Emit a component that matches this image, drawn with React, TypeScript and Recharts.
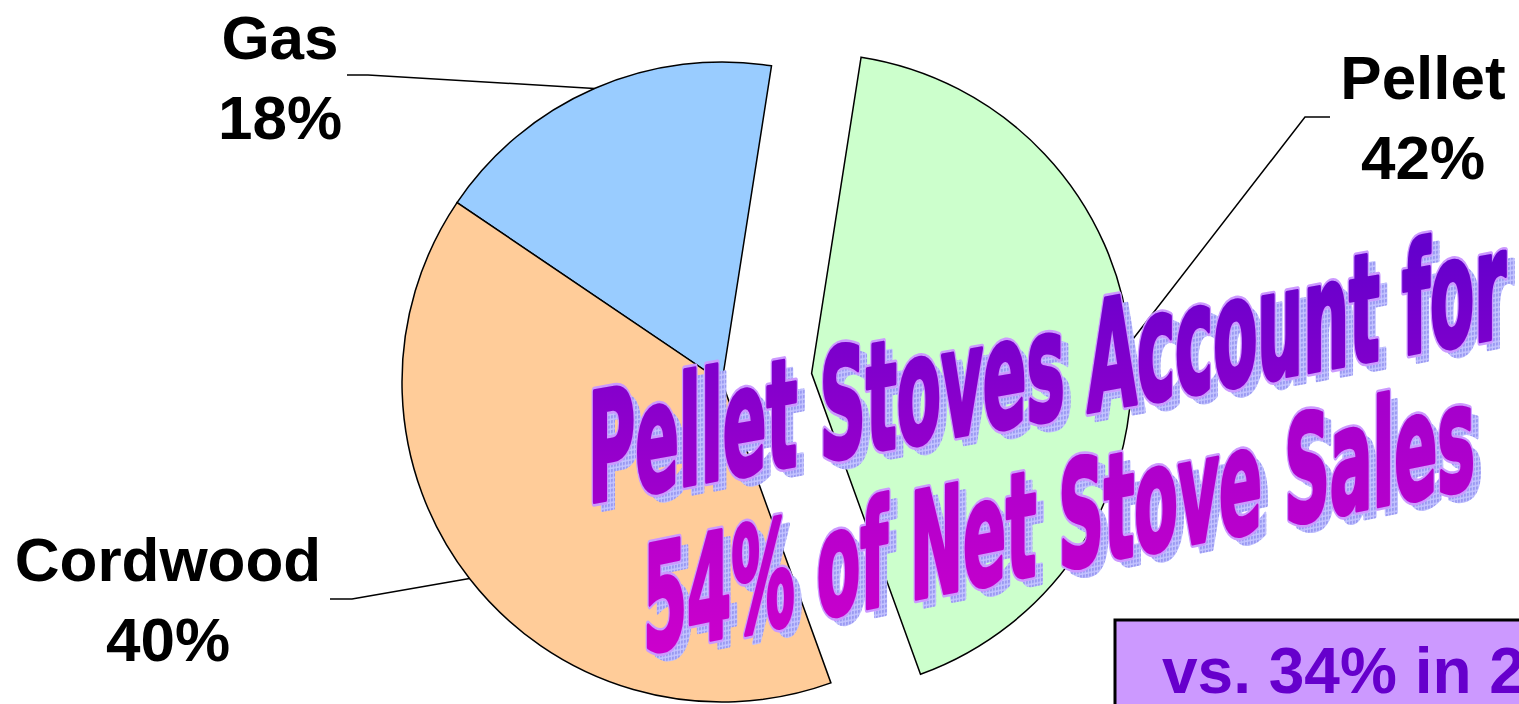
import React from 'react';
import { PieChart, Pie, Cell } from 'recharts';

// ---- data ----
const categories = ['Gas', 'Cordwood', 'Pellet'];
const shares = [18, 40, 42];
const sliceColors = ['#99ccff', '#ffcc99', '#ccffcc'];
const explodedCategory = 'Pellet';
const headlineLines = ['Pellet Stoves Account for', '54% of Net Stove Sales'];
const footnoteText = 'vs. 34% in 2';

// ---- layout ----
const W = 1519;
const H = 704;
const CX = 722;
const CY = 382;
const R = 320;
const START = 81.1;
const EXPLODE = 90;
const RAD = Math.PI / 180;

const data = categories.map((name, i) => ({ name, value: shares[i], color: sliceColors[i] }));
const total = shares.reduce((a, b) => a + b, 0);
let acc = 0;
let explodedMid = START;
data.forEach((d) => {
  if (d.name === explodedCategory) explodedMid = START + (360 * (acc + d.value / 2)) / total;
  acc += d.value;
});
const ECX = CX + EXPLODE * Math.cos(explodedMid * RAD);
const ECY = CY - EXPLODE * Math.sin(explodedMid * RAD);

const LABEL_LAYOUT: Record<string, { elbow: [number, number]; end: [number, number]; textX: number; baseline: number }> = {
  Gas: { elbow: [368, 75], end: [347, 75], textX: 280, baseline: 59 },
  Cordwood: { elbow: [352, 599], end: [330, 599], textX: 168, baseline: 581 },
  Pellet: { elbow: [1305, 117], end: [1330, 117], textX: 1423, baseline: 99 },
};
const LINE_GAP = 80;
const LABEL_FONT = "'Liberation Sans', Arial, sans-serif";

const makeLabel = (show: (n: string) => boolean) => (props: any) => {
  const name: string = props.name ?? props.payload?.name;
  if (!show(name) || !LABEL_LAYOUT[name]) return <g />;
  const { cx, cy, midAngle, outerRadius, value } = props;
  const px = cx + outerRadius * Math.cos(-midAngle * RAD);
  const py = cy + outerRadius * Math.sin(-midAngle * RAD);
  const L = LABEL_LAYOUT[name];
  return (
    <g>
      <polyline
        points={`${px},${py} ${L.elbow[0]},${L.elbow[1]} ${L.end[0]},${L.end[1]}`}
        fill="none"
        stroke="#000"
        strokeWidth={1.5}
      />
      <text x={L.textX} y={L.baseline} textAnchor="middle" fontFamily={LABEL_FONT} fontWeight="bold" fontSize={62} fill="#000">
        {name}
      </text>
      <text x={L.textX} y={L.baseline + LINE_GAP} textAnchor="middle" fontFamily={LABEL_FONT} fontWeight="bold" fontSize={62} fill="#000">
        {`${value}%`}
      </text>
    </g>
  );
};

const HEADLINE_STYLE = [
  { x: 588, y: 503, skew: -10.3, sy: 1.63, len: 918, size: 93, top: '#6400cc', bottom: '#a200cc', y1: 250, y2: 505 },
  { x: 643, y: 653, skew: -11.3, sy: 1.6, len: 832, size: 92, top: '#a600cc', bottom: '#cc00cc', y1: 410, y2: 655 },
];
const WORD_FONT = "'Liberation Sans Narrow', 'DejaVu Sans Condensed', 'Arial Narrow', sans-serif";
const THICKEN = 2.6;

const lineProps = (s: typeof HEADLINE_STYLE[number], dx = 0, dy = 0) => ({
  transform: `translate(${s.x + dx},${s.y + dy}) skewY(${s.skew}) scale(1,${s.sy})`,
  x: 0,
  y: 0,
  fontFamily: WORD_FONT,
  fontWeight: 'bold' as const,
  fontSize: s.size,
  textLength: s.len,
  lengthAdjust: 'spacingAndGlyphs' as const,
  strokeLinejoin: 'round' as const,
});

const Headline = () => (
  <svg width={W} height={H} style={{ position: 'absolute', left: 0, top: 0, pointerEvents: 'none' }}>
    <defs>
      <pattern id="shadowDots" width={3} height={3} patternUnits="userSpaceOnUse">
        <rect width={3} height={3} fill="#c4c4ff" />
        <rect width={2} height={2} fill="#9a9af2" />
      </pattern>
      {HEADLINE_STYLE.map((s, i) => (
        <linearGradient key={`g${i}`} id={`hg${i}`} gradientUnits="userSpaceOnUse" x1={0} y1={s.y1} x2={0} y2={s.y2}>
          <stop offset="0" stopColor={s.top} />
          <stop offset="1" stopColor={s.bottom} />
        </linearGradient>
      ))}
      {HEADLINE_STYLE.map((s, i) => (
        <mask key={`m${i}`} id={`hm${i}`} maskUnits="userSpaceOnUse" x={0} y={0} width={W} height={H}>
          <text {...lineProps(s)} fill="#fff" stroke="#fff" strokeWidth={THICKEN}>
            {headlineLines[i]}
          </text>
        </mask>
      ))}
    </defs>
    {HEADLINE_STYLE.map((s, i) => (
      <g key={`h${i}`}>
        <text {...lineProps(s, 8, 8)} fill="url(#shadowDots)" stroke="url(#shadowDots)" strokeWidth={THICKEN}>
          {headlineLines[i]}
        </text>
        <text {...lineProps(s)} fill="#cc99ff" stroke="#cc99ff" strokeWidth={THICKEN + 3.2}>
          {headlineLines[i]}
        </text>
        <rect x={0} y={0} width={W} height={H} fill={`url(#hg${i})`} mask={`url(#hm${i})`} />
      </g>
    ))}
    <rect x={1115} y={620} width={420} height={100} fill="#cc99ff" stroke="#000" strokeWidth={3} />
    <text x={1162} y={693} fontFamily={LABEL_FONT} fontWeight="bold" fontSize={64} fill="#6600cc">
      {footnoteText}
    </text>
  </svg>
);

export default function App() {
  return (
    <div style={{ position: 'absolute', left: 0, top: 0, width: W, height: H, background: '#fff', overflow: 'hidden' }}>
      <PieChart width={W} height={H} margin={{ top: 0, right: 0, bottom: 0, left: 0 }}>
        <Pie
          data={data}
          dataKey="value"
          nameKey="name"
          cx={CX}
          cy={CY}
          outerRadius={R}
          startAngle={START}
          endAngle={START + 360}
          isAnimationActive={false}
          labelLine={false}
          label={makeLabel((n) => n !== explodedCategory)}
        >
          {data.map((d) => (
            <Cell
              key={`m-${d.name}`}
              fill={d.name === explodedCategory ? 'none' : d.color}
              stroke={d.name === explodedCategory ? 'none' : '#000'}
              strokeWidth={1.5}
            />
          ))}
        </Pie>
        <Pie
          data={data}
          dataKey="value"
          nameKey="name"
          cx={ECX}
          cy={ECY}
          outerRadius={R}
          startAngle={START}
          endAngle={START + 360}
          isAnimationActive={false}
          labelLine={false}
          label={makeLabel((n) => n === explodedCategory)}
        >
          {data.map((d) => (
            <Cell
              key={`e-${d.name}`}
              fill={d.name === explodedCategory ? d.color : 'none'}
              stroke={d.name === explodedCategory ? '#000' : 'none'}
              strokeWidth={1.5}
            />
          ))}
        </Pie>
      </PieChart>
      <Headline />
    </div>
  );
}
